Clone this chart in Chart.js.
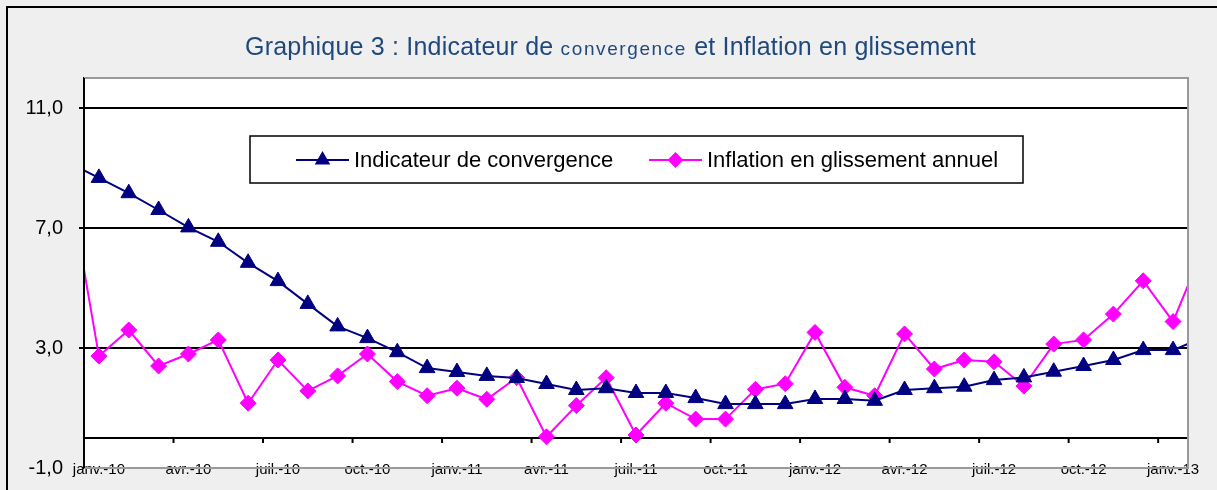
<!DOCTYPE html>
<html>
<head>
<meta charset="utf-8">
<script src="https://cdn.jsdelivr.net/npm/chart.js@4.4.1/dist/chart.umd.min.js"></script>
<style>
  html, body { margin: 0; padding: 0; background: #efefef; }
  #wrap { width: 1217px; height: 490px; }
</style>
</head>
<body>
<div id="wrap"><canvas id="chart" width="1217" height="490"></canvas></div>
<script>
// mois de déc.-09 à févr.-13 (le premier et le dernier sont coupés par le cadre)
var mois = ['déc.-09',
  'janv.-10', 'févr.-10', 'mars-10', 'avr.-10', 'mai-10', 'juin-10', 'juil.-10', 'août-10', 'sept.-10', 'oct.-10', 'nov.-10', 'déc.-10',
  'janv.-11', 'févr.-11', 'mars-11', 'avr.-11', 'mai-11', 'juin-11', 'juil.-11', 'août-11', 'sept.-11', 'oct.-11', 'nov.-11', 'déc.-11',
  'janv.-12', 'févr.-12', 'mars-12', 'avr.-12', 'mai-12', 'juin-12', 'juil.-12', 'août-12', 'sept.-12', 'oct.-12', 'nov.-12', 'déc.-12',
  'janv.-13', 'févr.-13']

var indicateur = [9.17,
  8.67, 8.16, 7.6, 7.02, 6.54, 5.84, 5.23, 4.47, 3.72, 3.33, 2.86, 2.33,
  2.2, 2.07, 2.0, 1.8, 1.6, 1.66, 1.5, 1.5, 1.33, 1.13, 1.13, 1.13,
  1.3, 1.3, 1.24, 1.6, 1.66, 1.71, 1.93, 2.02, 2.21, 2.4, 2.6, 2.93,
  2.93, 3.35]

var inflation = [8.5,
  2.73, 3.6, 2.4, 2.8, 3.27, 1.16, 2.6, 1.57, 2.07, 2.8, 1.88, 1.41,
  1.66, 1.29, 2.01, 0.04, 1.08, 2.01, 0.1, 1.16, 0.63, 0.63, 1.62, 1.81,
  3.52, 1.69, 1.41, 3.47, 2.3, 2.6, 2.54, 1.73, 3.13, 3.27, 4.13, 5.24,
  3.88, 6.3]

var yTicks = [-1, 0, 3, 7, 11]
var titre = ['Graphique 3 : Indicateur de ', 'convergence', ' et Inflation en glissement']
var legendes = ['Indicateur de convergence', 'Inflation en glissement annuel']

var police = "'Liberation Sans', Arial, sans-serif"
var bleu = '#000080'
var rose = '#ff00ff'

function points(values) {
  return values.map((v, i) => ({ x: i - 1, y: v }))
}

const decor = {
  id: 'decor',
  beforeDraw(chart) {
    const ctx = chart.ctx
    const a = chart.chartArea
    ctx.save()
    ctx.fillStyle = '#efefef'
    ctx.fillRect(0, 0, chart.width, chart.height)
    ctx.strokeStyle = '#000'
    ctx.lineWidth = 2
    ctx.strokeRect(7, 7, chart.width + 20, chart.height + 20)
    ctx.fillStyle = '#fff'
    ctx.fillRect(a.left, a.top, a.right - a.left, a.bottom - a.top)

    // titre en trois morceaux, le mot du milieu plus petit
    const tailles = [25, 19, 25]
    const espaces = ['0.2px', '1.6px', '0.2px']
    let total = 0
    titre.forEach((t, i) => {
      ctx.font = tailles[i] + 'px ' + police
      ctx.letterSpacing = espaces[i]
      total += ctx.measureText(t).width
    })
    let x = chart.width / 2 - total / 2 + 2
    ctx.fillStyle = '#1f497d'
    ctx.textBaseline = 'alphabetic'
    titre.forEach((t, i) => {
      ctx.font = tailles[i] + 'px ' + police
      ctx.letterSpacing = espaces[i]
      ctx.fillText(t, x, 55)
      x += ctx.measureText(t).width
    })
    ctx.letterSpacing = '0px'
    ctx.restore()
  },
  afterDatasetsDraw(chart) {
    const ctx = chart.ctx
    const a = chart.chartArea
    const xs = chart.scales.x
    const ys = chart.scales.y
    ctx.save()
    // petites graduations sur l'axe zéro
    const y0 = ys.getPixelForValue(0)
    ctx.strokeStyle = '#000'
    ctx.lineWidth = 2
    for (let k = -0.5; k < 36.5; k += 3) {
      const px = xs.getPixelForValue(k)
      ctx.beginPath()
      ctx.moveTo(px, y0)
      ctx.lineTo(px, y0 + 5)
      ctx.stroke()
    }
    // cadre gris de la zone de tracé
    ctx.strokeStyle = '#9a9a9a'
    ctx.beginPath()
    ctx.moveTo(a.left, a.top)
    ctx.lineTo(a.right, a.top)
    ctx.lineTo(a.right, a.bottom)
    ctx.lineTo(a.left, a.bottom)
    ctx.stroke()
    ctx.strokeStyle = '#000'
    ctx.beginPath()
    ctx.moveTo(a.left, a.top)
    ctx.lineTo(a.left, a.bottom)
    ctx.stroke()

    // légende
    ctx.fillStyle = '#fff'
    ctx.fillRect(250, 136, 773, 47)
    ctx.strokeStyle = '#000'
    ctx.lineWidth = 1.5
    ctx.strokeRect(250, 136, 773, 47)
    const items = [
      { x: 296, couleur: bleu, style: 'triangle', r: 7, texte: legendes[0] },
      { x: 649, couleur: rose, style: 'rectRot', r: 6.5, texte: legendes[1] }
    ]
    items.forEach(it => {
      const ly = 160
      ctx.strokeStyle = it.couleur
      ctx.lineWidth = 2
      ctx.beginPath()
      ctx.moveTo(it.x, ly)
      ctx.lineTo(it.x + 53, ly)
      ctx.stroke()
      ctx.fillStyle = it.couleur
      Chart.helpers.drawPoint(ctx, { pointStyle: it.style, radius: it.r, borderWidth: 1, rotation: 0 }, it.x + 26.5, ly)
      ctx.fill()
      ctx.fillStyle = '#000'
      ctx.font = '22px ' + police
      ctx.textBaseline = 'middle'
      ctx.fillText(it.texte, it.x + 58, ly + 1)
    })
    ctx.restore()
  }
}

const ctx = document.getElementById('chart')

new Chart(ctx, {
  type: 'line',
  data: {
    datasets: [{
      label: legendes[0],
      data: points(indicateur),
      borderColor: bleu,
      backgroundColor: bleu,
      borderWidth: 2,
      pointStyle: 'triangle',
      pointRadius: 9,
      pointBorderWidth: 1,
      tension: 0,
      clip: 0
    }, {
      label: legendes[1],
      data: points(inflation),
      borderColor: rose,
      backgroundColor: rose,
      borderWidth: 2,
      pointStyle: 'rectRot',
      pointRadius: 8,
      pointBorderWidth: 1,
      tension: 0,
      clip: 0
    }]
  },
  options: {
    responsive: false,
    animation: false,
    layout: { autoPadding: false, padding: { top: 78, right: 29, left: 0, bottom: 0 } },
    plugins: {
      legend: { display: false },
      title: { display: false },
      tooltip: { enabled: false }
    },
    scales: {
      x: {
        type: 'linear',
        min: -0.5,
        max: 36.5,
        afterBuildTicks: scale => {
          scale.ticks = []
          for (let i = 0; i <= 36; i += 3) scale.ticks.push({ value: i })
        },
        afterFit: scale => {
          scale.height = 22
          scale.paddingTop = 0
          scale.paddingBottom = 0
        },
        grid: { display: false, drawTicks: false },
        border: { display: false },
        ticks: {
          autoSkip: false,
          maxRotation: 0,
          mirror: true,
          padding: -11,
          color: '#000',
          font: { family: police, size: 15 },
          callback: v => mois[v + 1]
        }
      },
      y: {
        min: -1,
        max: 12,
        afterBuildTicks: scale => {
          scale.ticks = yTicks.map(v => ({ value: v }))
        },
        afterFit: scale => {
          scale.width = 84
          scale.paddingTop = 0
          scale.paddingBottom = 0
        },
        grid: {
          color: c => (c.tick && c.tick.value === -1) ? 'rgba(0,0,0,0)' : '#000',
          tickColor: c => (c.tick && (c.tick.value === -1 || c.tick.value === 0)) ? 'rgba(0,0,0,0)' : '#000',
          lineWidth: 2,
          tickLength: 5
        },
        border: { display: true, color: '#000', width: 2 },
        ticks: {
          padding: 16,
          color: '#000',
          font: { family: police, size: 20 },
          callback: v => v === 0 ? '' : v.toFixed(1).replace('.', ',')
        }
      }
    }
  },
  plugins: [decor]
})
</script>
</body>
</html>
